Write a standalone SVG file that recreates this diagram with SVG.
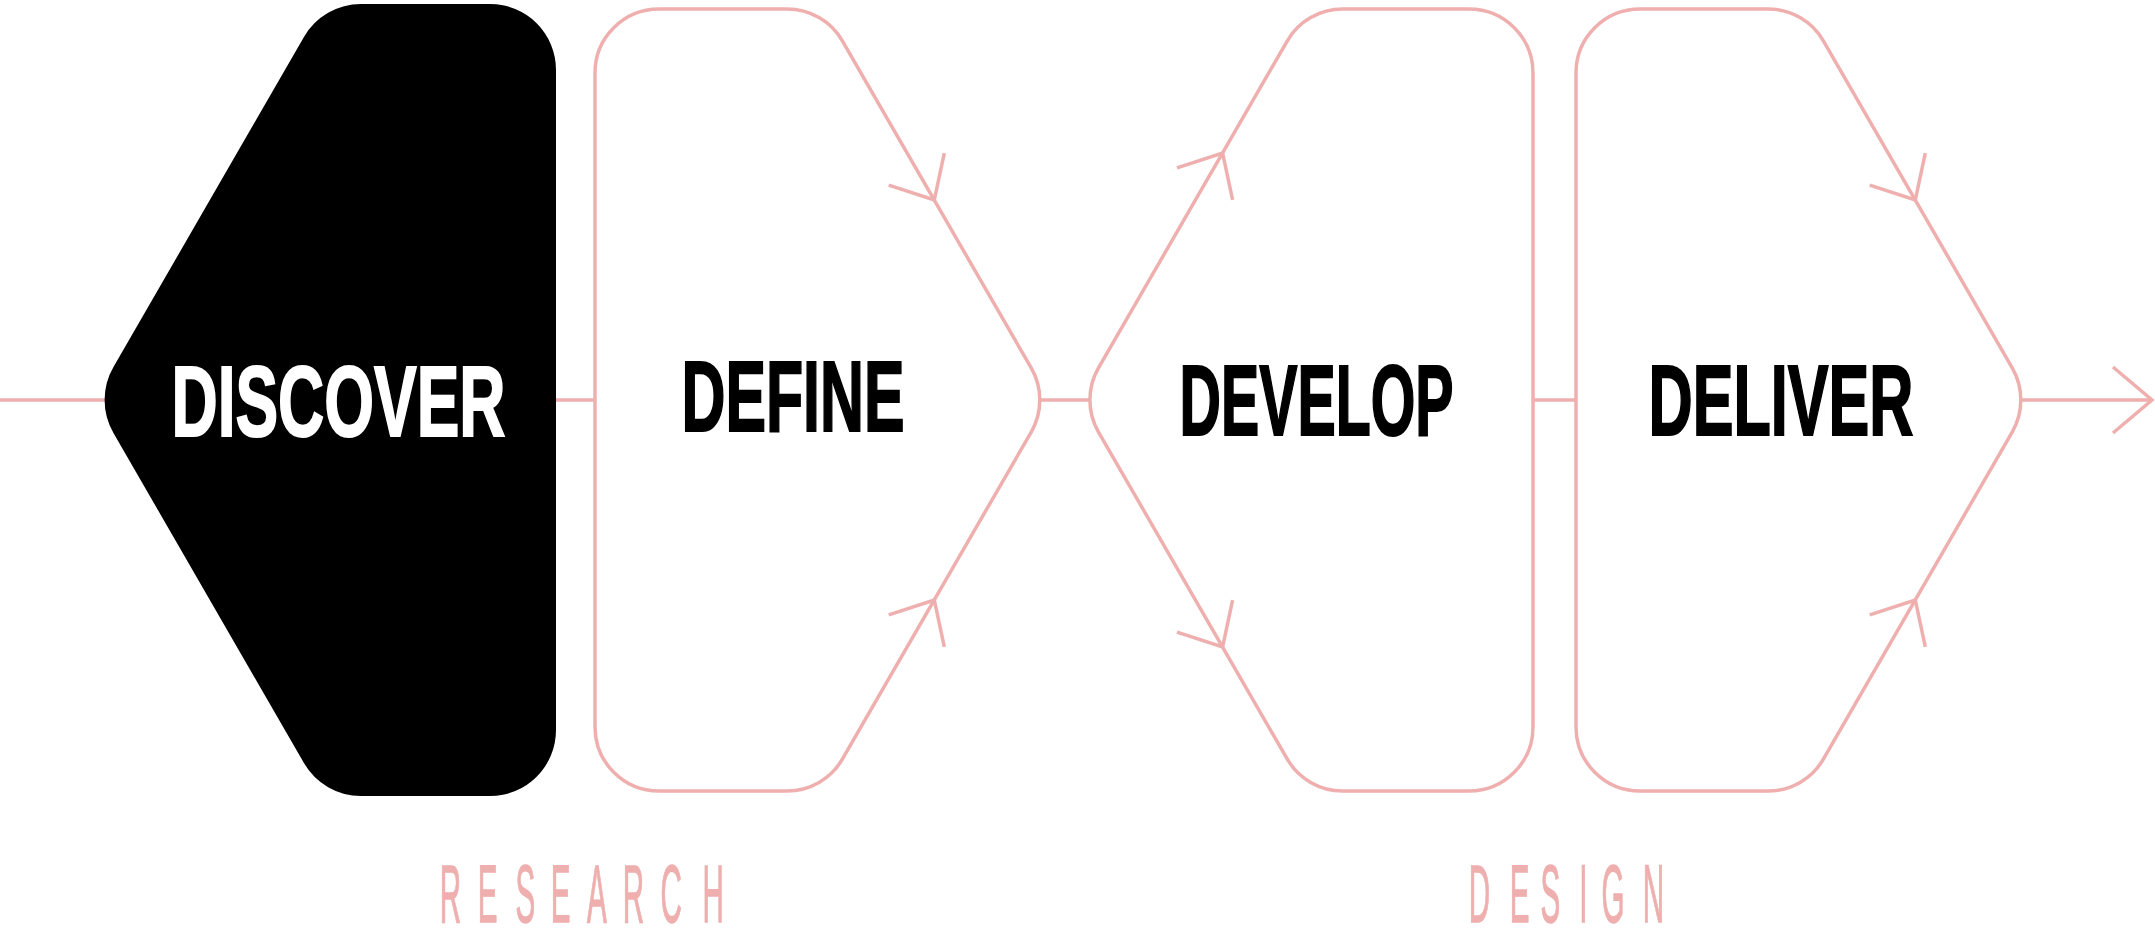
<svg xmlns="http://www.w3.org/2000/svg" width="2155" height="942" viewBox="0 0 2155 942">
  <style>
    .ln { fill: none; stroke: #efafaf; stroke-width: 3.5; stroke-linejoin: miter; stroke-linecap: butt; }
    .outline { fill: #ffffff; stroke: #efafaf; stroke-width: 3.5; }
    .solid { fill: #000000; }
    .big { font-family: "Liberation Sans", Arial, sans-serif; font-weight: bold; font-size: 100px; stroke-width: 2; stroke-linejoin: miter; }
    .phase { font-family: "Liberation Sans", Arial, sans-serif; font-weight: normal; font-size: 82px; fill: #efafaf; stroke: #efafaf; stroke-width: 1; vector-effect: non-scaling-stroke; }
  </style>
  <rect x="0" y="0" width="2155" height="942" fill="#ffffff"/>

  <g id="connectors">
    <path class="ln" d="M0,400 H110"/>
    <path class="ln" d="M556,400 H595"/>
    <path class="ln" d="M1040,400 H1090"/>
    <path class="ln" d="M1533,400 H1576"/>
    <path class="ln" d="M2020,400 H2152"/>
    <path class="ln" d="M2113,367 L2152,400 L2113,433"/>
  </g>

  <g id="node-discover">
    <path class="solid" d="M113.45,367 L303.95,37 A66,66 0 0 1 361.1,4 L490,4 A66,66 0 0 1 556,70 L556,730 A66,66 0 0 1 490,796 L361.1,796 A66,66 0 0 1 303.95,763 L113.45,433 A66,66 0 0 1 113.45,367 Z"/>
    <text class="big" x="171.5" y="436" fill="#ffffff" stroke="#ffffff" textLength="334" lengthAdjust="spacingAndGlyphs">DISCOVER</text>
  </g>

  <g id="node-define">
    <path class="outline" d="M595,73 A64,64 0 0 1 659,9 L787,9 A64,64 0 0 1 842.5,41.04 L1031.2,367.96 A64,64 0 0 1 1031.2,432.04 L842.5,758.96 A64,64 0 0 1 787,791 L659,791 A64,64 0 0 1 595,727 Z"/>
    <path class="ln" d="M888.7,185.2 L934.3,200 L944.3,153.1"/>
    <path class="ln" d="M888.7,614.8 L934.3,600 L944.3,646.9"/>
    <text class="big" x="681.5" y="431" fill="#000000" stroke="#000000" textLength="223" lengthAdjust="spacingAndGlyphs">DEFINE</text>
  </g>

  <g id="node-develop">
    <path class="outline" d="M1098.5,367.96 L1287.2,41.04 A64,64 0 0 1 1342.7,9 L1469,9 A64,64 0 0 1 1533,73 L1533,727 A64,64 0 0 1 1469,791 L1342.7,791 A64,64 0 0 1 1287.2,758.96 L1098.5,432.04 A64,64 0 0 1 1098.5,367.96 Z"/>
    <path class="ln" d="M1177,167.8 L1222.6,153 L1232.6,199.9"/>
    <path class="ln" d="M1177,632.2 L1222.6,647 L1232.6,600.1"/>
    <text class="big" x="1179.5" y="435" fill="#000000" stroke="#000000" textLength="274" lengthAdjust="spacingAndGlyphs">DEVELOP</text>
  </g>

  <g id="node-deliver">
    <path class="outline" d="M1576,73 A64,64 0 0 1 1640,9 L1768,9 A64,64 0 0 1 1823.5,41.04 L2012.2,367.96 A64,64 0 0 1 2012.2,432.04 L1823.5,758.96 A64,64 0 0 1 1768,791 L1640,791 A64,64 0 0 1 1576,727 Z"/>
    <path class="ln" d="M1869.7,185.2 L1915.3,200 L1925.3,153.1"/>
    <path class="ln" d="M1869.7,614.8 L1915.3,600 L1925.3,646.9"/>
    <text class="big" x="1648.5" y="435" fill="#000000" stroke="#000000" textLength="265" lengthAdjust="spacingAndGlyphs">DELIVER</text>
  </g>

  <g id="label-research">
    <text class="phase" transform="scale(0.36,1)" x="1221.4 1326.9 1432.2 1529.7 1630.6 1729.7 1834.7 1951.7" y="922">RESEARCH</text>
  </g>

  <g id="label-design">
    <text class="phase" transform="scale(0.36,1)" x="4079.7 4193.6 4279.4 4386.9 4448.6 4563.1" y="922">DESIGN</text>
  </g>
</svg>
